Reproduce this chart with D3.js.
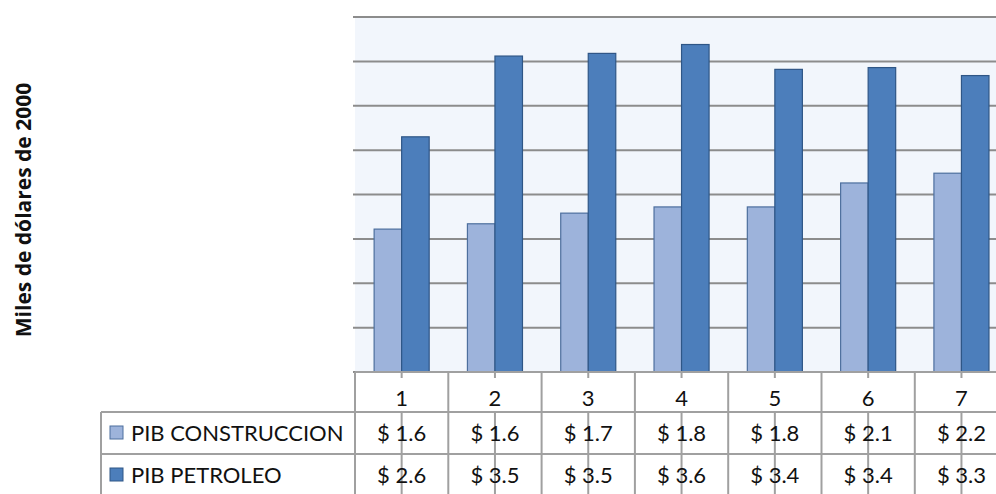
<!DOCTYPE html>
<meta charset="utf-8">
<title>PIB construccion vs petroleo</title>
<style>
html, body {
  margin: 0;
  padding: 0;
  width: 996px;
  height: 494px;
  background: #fff;
  overflow: hidden;
}
svg { display: block; }
.grid line { stroke: #8c8c8c; stroke-width: 2; }
.table line { stroke: #a0a0a0; stroke-width: 2; }
.table text, .legend text {
  font-family: Lato, "Open Sans", sans-serif;
  font-size: 22px;
  fill: #111;
}
.ytitle {
  font-family: "Open Sans", sans-serif;
  font-weight: bold;
  font-size: 21px;
  fill: #111;
}
</style>
<body>
<svg width="996" height="494"></svg>
<script src="https://d3js.org/d3.v7.min.js"></script>
<script>

var years = ["1", "2", "3", "4", "5", "6", "7"];
var series = ["PIB CONSTRUCCION", "PIB PETROLEO"];
var construccion = [1.61, 1.67, 1.79, 1.86, 1.86, 2.13, 2.24];
var petroleo = [2.65, 3.56, 3.59, 3.69, 3.41, 3.43, 3.34];
var yTicks = [0, 0.5, 1, 1.5, 2, 2.5, 3, 3.5, 4];

var colors = { "PIB CONSTRUCCION": "#9db3db", "PIB PETROLEO": "#4c7ebb" };
var strokes = { "PIB CONSTRUCCION": "#4d6f9e", "PIB PETROLEO": "#2f5686" };

var svg = d3.select("svg");

// careful: "top" is taken by window.top
var plotLeft = 355, plotTop = 17, plotBottom = 372;
var step = 93.3;
var plotRight = plotLeft + step * years.length;
var row1 = 412, row2 = 454, rowEnd = 494;
var legendLeft = 101;

var x = d3.scaleBand()
    .domain(years)
    .range([plotLeft, plotRight])
    .paddingInner(0.41)
    .paddingOuter(0.205);

var xs = d3.scaleBand()
    .domain(series)
    .range([0, x.bandwidth()]);

var y = d3.scaleLinear()
    .domain([0, 4])
    .range([plotBottom, plotTop]);

var rows = years.map(function(d, i) {
  return { year: d, "PIB CONSTRUCCION": construccion[i], "PIB PETROLEO": petroleo[i] };
});

// plot background
svg.append("rect")
    .attr("x", plotLeft)
    .attr("y", y(4))
    .attr("width", plotRight - plotLeft)
    .attr("height", plotBottom - y(4))
    .attr("fill", "#f2f6fc");

// gridlines
svg.append("g")
    .attr("class", "grid")
  .selectAll("line")
  .data(yTicks)
  .enter().append("line")
    .attr("x1", plotLeft - 2)
    .attr("x2", plotRight)
    .attr("y1", function(d) { return y(d); })
    .attr("y2", function(d) { return y(d); });

// bars
svg.append("g")
  .selectAll("g")
  .data(rows)
  .enter().append("g")
    .attr("transform", function(d) { return "translate(" + x(d.year) + ",0)"; })
  .selectAll("rect")
  .data(function(d) { return series.map(function(s) { return { key: s, value: d[s] }; }); })
  .enter().append("rect")
    .attr("x", function(d) { return xs(d.key); })
    .attr("y", function(d) { return y(d.value); })
    .attr("width", xs.bandwidth())
    .attr("height", function(d) { return plotBottom - y(d.value); })
    .attr("fill", function(d) { return colors[d.key]; })
    .attr("stroke", function(d) { return strokes[d.key]; })
    .attr("stroke-width", 1.2);

// data table
var table = svg.append("g").attr("class", "table");

var cols = years.map(function(d) { return x(d) - x.step() * x.paddingOuter(); });
cols.push(plotRight);

table.selectAll("line.col")
  .data(cols)
  .enter().append("line")
    .attr("class", "col")
    .attr("x1", function(d) { return d; })
    .attr("x2", function(d) { return d; })
    .attr("y1", plotBottom)
    .attr("y2", rowEnd);

// category ticks, they run behind the values too
table.selectAll("line.tick")
  .data(years)
  .enter().append("line")
    .attr("class", "tick")
    .attr("x1", function(d) { return x(d) + x.bandwidth() / 2; })
    .attr("x2", function(d) { return x(d) + x.bandwidth() / 2; })
    .attr("y1", plotBottom)
    .attr("y2", plotBottom + 6);

table.selectAll("line.tick2")
  .data(years)
  .enter().append("line")
    .attr("class", "tick2")
    .attr("x1", function(d) { return x(d) + x.bandwidth() / 2; })
    .attr("x2", function(d) { return x(d) + x.bandwidth() / 2; })
    .attr("y1", row1)
    .attr("y2", rowEnd);

table.append("line")
    .attr("x1", plotLeft).attr("x2", plotRight)
    .attr("y1", plotBottom).attr("y2", plotBottom);

[row1, row2].forEach(function(r) {
  table.append("line")
      .attr("x1", legendLeft).attr("x2", plotRight)
      .attr("y1", r).attr("y2", r);
});

table.append("line")
    .attr("x1", legendLeft).attr("x2", legendLeft)
    .attr("y1", row1).attr("y2", rowEnd);

table.selectAll("text.year")
  .data(years)
  .enter().append("text")
    .attr("class", "year")
    .attr("x", function(d) { return x(d) + x.bandwidth() / 2; })
    .attr("y", plotBottom + 34)
    .attr("text-anchor", "middle")
    .text(function(d) { return d; });

function money(v) {
  return "$ " + (Math.floor(v * 10 + 1e-6) / 10).toFixed(1);
}

[construccion, petroleo].forEach(function(vals, k) {
  var ry = k === 0 ? row1 : row2;
  table.selectAll("text.v" + k)
    .data(vals)
    .enter().append("text")
      .attr("class", "v" + k)
      .attr("x", function(d, i) { return x(years[i]) + x.bandwidth() / 2; })
      .attr("y", ry + 29)
      .attr("text-anchor", "middle")
      .text(money);
});

// legend keys in the table
var legend = svg.append("g").attr("class", "legend");
series.forEach(function(s, k) {
  var ry = k === 0 ? row1 : row2;
  legend.append("rect")
      .attr("x", 110)
      .attr("y", ry + 14)
      .attr("width", 13)
      .attr("height", 13)
      .attr("fill", colors[s])
      .attr("stroke", strokes[s])
      .attr("stroke-width", 1);
  legend.append("text")
      .attr("x", 131)
      .attr("y", ry + 29)
      .text(s);
});

// y title
svg.append("text")
    .attr("class", "ytitle")
    .attr("transform", "translate(31,210) rotate(-90)")
    .attr("text-anchor", "middle")
    .text("Miles de dólares de 2000");

</script>
</body>
